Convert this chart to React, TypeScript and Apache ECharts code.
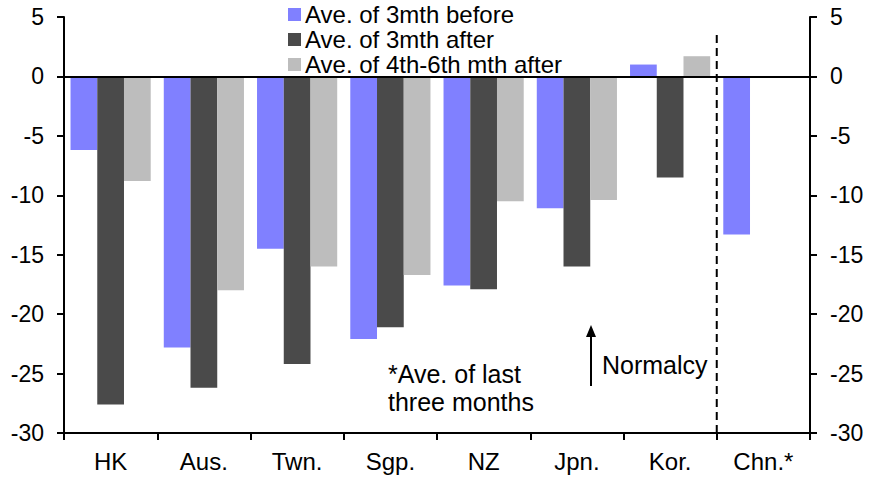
import React, { useEffect, useRef } from "react";
import * as echarts from "echarts";

const categories = ["HK", "Aus.", "Twn.", "Sgp.", "NZ", "Jpn.", "Kor.", "Chn.*"];
const before3m = [-6.2, -22.8, -14.5, -22.1, -17.6, -11.1, 1.0, -13.3];
const after3m = [-27.6, -26.2, -24.2, -21.1, -17.9, -16.0, -8.5, null];
const after4to6m = [-8.8, -18.0, -16.0, -16.7, -10.5, -10.4, 1.7, null];
const seriesNames = ["Ave. of 3mth before", "Ave. of 3mth after", "Ave. of 4th-6th mth after"];
const yTicks = { min: -30, max: 5, interval: 5 };
const dividerLine = [[7, -30], [7, 3.7]];

export default function App() {
  const ref = useRef<HTMLDivElement>(null);
  useEffect(() => {
    if (!ref.current) return;
    const chart = echarts.init(ref.current, undefined, { renderer: "svg" });
    const font = "'Liberation Sans', Arial, sans-serif";
    const axisLabel = { color: "#000", fontSize: 23, fontFamily: font };
    const yAxisCommon = {
      type: "value",
      min: yTicks.min,
      max: yTicks.max,
      interval: yTicks.interval,
      splitLine: { show: false },
      axisLine: { show: true, lineStyle: { color: "#000", width: 2 } },
      axisTick: { show: true, length: 7, lineStyle: { color: "#000", width: 2 } },
    };
    chart.setOption({
      animation: false,
      textStyle: { fontFamily: font },
      grid: { left: 64, right: 61, top: 17, bottom: 47 },
      legend: {
        orient: "vertical",
        left: 288,
        top: 2,
        padding: 0,
        itemWidth: 13,
        itemHeight: 13,
        itemGap: 0,
        icon: "rect",
        textStyle: { color: "#000", fontSize: 24, fontFamily: font, lineHeight: 25, padding: [0, 0, 0, -1] },
        data: seriesNames,
      },
      xAxis: [
        {
          type: "category",
          data: categories,
          boundaryGap: true,
          axisLine: { show: true, onZero: false, lineStyle: { color: "#000", width: 2 } },
          axisTick: { show: true, length: 7, alignWithLabel: false, lineStyle: { color: "#000", width: 2 } },
          axisLabel: { ...axisLabel, fontSize: 24, margin: 16 },
          splitLine: { show: false },
        },
        { type: "value", min: 0, max: 8, show: false },
      ],
      yAxis: [
        { ...yAxisCommon, position: "left", axisLabel: { ...axisLabel, margin: 20 } },
        { ...yAxisCommon, position: "right", axisLabel: { ...axisLabel, margin: 20 } },
      ],
      series: [
        {
          name: seriesNames[0],
          type: "bar",
          data: before3m,
          itemStyle: { color: "#8080ff" },
          barGap: "0%",
          barCategoryGap: "14%",
          markLine: {
            silent: true,
            symbol: "none",
            label: { show: false },
            lineStyle: { color: "#000", width: 2, type: "solid" },
            data: [{ yAxis: 0 }],
          },
        },
        { name: seriesNames[1], type: "bar", data: after3m, itemStyle: { color: "#4a4a4a" }, barGap: "0%", barCategoryGap: "14%" },
        { name: seriesNames[2], type: "bar", data: after4to6m, itemStyle: { color: "#bdbdbd" }, barGap: "0%", barCategoryGap: "14%" },
        {
          type: "line",
          xAxisIndex: 1,
          yAxisIndex: 0,
          data: dividerLine,
          symbol: "none",
          silent: true,
          lineStyle: { color: "#000", width: 2, type: [8, 5] },
        },
      ],
      graphic: [
        { type: "line", shape: { x1: 591, y1: 386, x2: 591, y2: 334 }, style: { stroke: "#000", lineWidth: 2 } },
        { type: "polygon", shape: { points: [[591, 325], [586, 337], [596, 337]] }, style: { fill: "#000" } },
        { type: "text", x: 602, y: 365, style: { text: "Normalcy", fill: "#000", fontSize: 25, fontFamily: font, verticalAlign: "middle" } },
        { type: "text", x: 388, y: 374, style: { text: "*Ave. of last", fill: "#000", fontSize: 25, fontFamily: font, verticalAlign: "middle" } },
        { type: "text", x: 388, y: 402, style: { text: "three months", fill: "#000", fontSize: 25, fontFamily: font, verticalAlign: "middle" } },
      ],
    });
    return () => chart.dispose();
  }, []);
  return <div ref={ref} style={{ width: 871, height: 480, position: "absolute", left: 0, top: 0 }} />;
}
